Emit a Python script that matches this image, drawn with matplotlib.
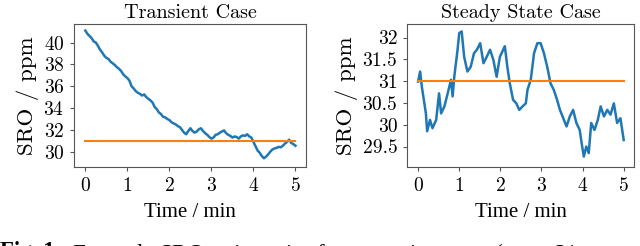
import matplotlib
matplotlib.use("Agg")
import matplotlib.pyplot as plt

# Transient case (time in min, SRO in ppm)
t_trans = [0.00, 0.05, 0.10, 0.15, 0.20, 0.25, 0.30, 0.35, 0.40, 0.45,
           0.50, 0.55, 0.60, 0.65, 0.70, 0.75, 0.80, 0.85, 0.90, 0.95,
           1.00, 1.05, 1.10, 1.15, 1.20, 1.25, 1.30, 1.35, 1.40, 1.45,
           1.50, 1.55, 1.60, 1.65, 1.70, 1.75, 1.80, 1.85, 1.90, 1.95,
           2.00, 2.05, 2.10, 2.15, 2.20, 2.25, 2.30, 2.35, 2.40, 2.45,
           2.50, 2.55, 2.60, 2.65, 2.70, 2.75, 2.80, 2.85, 2.90, 2.95,
           3.00, 3.05, 3.10, 3.15, 3.20, 3.25, 3.30, 3.35, 3.40, 3.45,
           3.50, 3.55, 3.60, 3.65, 3.70, 3.75, 3.80, 3.85, 3.90, 3.95,
           4.00, 4.05, 4.10, 4.15, 4.20, 4.25, 4.30, 4.35, 4.40, 4.45,
           4.50, 4.55, 4.60, 4.65, 4.70, 4.75, 4.80, 4.85, 4.90, 4.95, 5.00]
sro_trans = [41.1, 40.8, 40.6, 40.4, 40.1, 40.0, 39.7, 39.35, 39.1, 38.8,
             38.6, 38.5, 38.25, 38.1, 37.95, 37.75, 37.6, 37.4, 37.1, 36.9,
             36.75, 36.5, 36.0, 35.8, 35.55, 35.4, 35.3, 35.15, 35.25, 35.0,
             34.85, 34.7, 34.5, 34.1, 33.9, 33.6, 33.45, 33.2, 33.15, 33.0,
             32.9, 32.7, 32.6, 32.5, 32.35, 32.25, 32.0, 31.75, 31.6, 31.9,
             32.15, 31.9, 31.75, 31.85, 32.05, 32.15, 31.9, 31.7, 31.55, 31.35,
             31.2, 31.3, 31.55, 31.6, 31.75, 31.85, 31.95, 31.7, 31.55, 31.45,
             31.3, 31.4, 31.35, 31.2, 31.4, 31.5, 31.45, 31.6, 31.4, 31.3,
             30.9, 30.5, 30.1, 29.9, 29.6, 29.4, 29.55, 29.75, 30.0, 30.2,
             30.3, 30.35, 30.45, 30.4, 30.55, 30.75, 30.9, 31.1, 30.8, 30.7, 30.55]

# Steady state case
t_steady = [0.00, 0.05, 0.09, 0.14, 0.19, 0.22, 0.29, 0.35, 0.44, 0.51,
            0.56, 0.64, 0.72, 0.80, 0.84, 0.88, 0.96, 1.00, 1.06, 1.12,
            1.20, 1.28, 1.36, 1.43, 1.51, 1.59, 1.67, 1.75, 1.83, 1.91,
            1.99, 2.07, 2.11, 2.17, 2.23, 2.31, 2.39, 2.46, 2.54, 2.62,
            2.66, 2.74, 2.82, 2.90, 2.98, 3.06, 3.14, 3.22, 3.30, 3.38,
            3.45, 3.53, 3.61, 3.69, 3.77, 3.85, 3.93, 3.99, 4.03, 4.09,
            4.15, 4.21, 4.29, 4.37, 4.44, 4.52, 4.60, 4.68, 4.76, 4.84,
            4.92, 5.00]
sro_steady = [30.99, 31.22, 30.88, 30.57, 30.26, 29.85, 30.11, 29.92, 30.11, 30.72,
              30.26, 30.42, 30.72, 31.03, 30.65, 31.10, 31.72, 32.10, 32.14, 31.56,
              31.22, 31.33, 31.64, 31.72, 31.87, 31.41, 31.56, 31.72, 31.49, 31.10,
              31.56, 31.72, 31.80, 31.33, 30.95, 30.57, 30.49, 30.34, 30.42, 30.49,
              30.80, 31.03, 31.64, 31.87, 31.87, 31.64, 31.33, 30.95, 30.80, 30.57,
              30.34, 30.15, 29.96, 30.19, 30.34, 30.04, 29.88, 29.50, 29.27, 29.50,
              29.35, 30.04, 29.88, 30.11, 30.42, 30.19, 30.34, 30.23, 30.49, 30.04,
              30.15, 29.65]

setpoint = 31.0
t_span = [0.0, 5.0]
xticks = [0, 1, 2, 3, 4, 5]
yticks_trans = [30, 32, 34, 36, 38, 40]
yticks_steady = [29.5, 30, 30.5, 31, 31.5, 32]
ytick_labels_steady = ["29.5", "30", "30.5", "31", "31.5", "32"]

plt.rcParams['font.family'] = ['cmr10', 'DejaVu Serif']
plt.rcParams['axes.formatter.use_mathtext'] = True
plt.rcParams['mathtext.fontset'] = 'cm'

fig = plt.figure(figsize=(6.4, 2.46), dpi=100)
ax1 = fig.add_axes([0.1156, 0.3211, 0.3625, 0.5813])
ax2 = fig.add_axes([0.6359, 0.3211, 0.3547, 0.5813])

blue = '#1f77b4'
orange = '#ff7f0e'
edge = '#555555'

for ax, t, y, title in [(ax1, t_trans, sro_trans, 'Transient Case'),
                        (ax2, t_steady, sro_steady, 'Steady State Case')]:
    ax.plot(t, y, color=blue, lw=1.8)
    ax.plot(t_span, [setpoint, setpoint], color=orange, lw=1.5)
    ax.set_title(title, fontsize=14.5, pad=4)
    ax.set_xlabel('Time / min', fontsize=15, family='Liberation Serif', labelpad=6)
    ax.set_ylabel('SRO / ppm', fontsize=16.5, labelpad=3)
    ax.set_xticks(xticks)
    ax.tick_params(labelsize=14, length=3, width=0.8, color=edge, pad=4)
    for s in ax.spines.values():
        s.set_color(edge)
        s.set_linewidth(0.8)

ax1.set_yticks(yticks_trans)
ax1.set_ylim(28.6, 41.7)
ax2.set_yticks(yticks_steady)
ax2.set_yticklabels(ytick_labels_steady)
ax2.set_ylim(29.03, 32.31)
for ax in (ax1, ax2):
    ax.set_xlim(-0.27, 5.25)

cap_y = 1 - 241.5 / 246
fig.text(0.0, cap_y, 'Fig. 1:', fontsize=16.5, fontweight='bold',
         family='Liberation Serif', va='top', ha='left')
fig.text(72 / 640, cap_y,
         'Example SRO trajectories for a transient case ($y_{\\mathrm{sp}}$ = 31',
         fontsize=16.5, family='Liberation Serif', va='top', ha='left')

fig.savefig('out.png', dpi=100)
